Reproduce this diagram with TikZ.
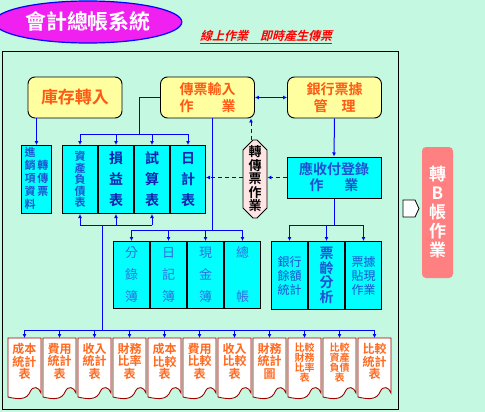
\documentclass[tikz,border=0pt]{standalone}
\usepackage{fontspec}
\setmainfont{Noto Sans CJK TC}[BoldFont={Noto Sans CJK TC Bold}]
\newfontfamily\slantcjk{Noto Sans CJK TC Bold}[FakeSlant=0.25]
\usetikzlibrary{shapes.geometric,shapes.misc,shapes.symbols,positioning,arrows.meta,calc}

\definecolor{mint}{HTML}{C4F8E0}
\definecolor{paleyellow}{HTML}{FFFFA0}
\definecolor{orangetext}{HTML}{FF5A14}
\definecolor{aqua}{RGB}{0,255,255}
\definecolor{wireblue}{RGB}{0,0,255}
\definecolor{boxblue}{HTML}{2050D0}
\definecolor{darkblue}{HTML}{1020B0}
\definecolor{lightblue}{HTML}{3070E0}
\definecolor{salmon}{HTML}{FF8080}
\definecolor{palepink}{HTML}{FFE4E4}
\definecolor{docred}{HTML}{A00000}
\definecolor{docorange}{HTML}{FF6A20}
\definecolor{titlemagenta}{HTML}{F020F0}

\begin{document}
\begin{tikzpicture}[x=1pt, y=-1pt,
    wire/.style={wireblue, line width=1pt},
    arr/.style={wire, -{Latex[length=4pt,width=4pt]}},
    dblarr/.style={wire, {Latex[length=4pt,width=4pt]}-{Latex[length=4pt,width=4pt]}},
    dasharr/.style={arr, dash pattern=on 4pt off 3pt},
    topbox/.style={rectangle, rounded corners=7pt, draw, line width=0.9pt, fill=paleyellow, text=orangetext,
        minimum width=94pt, minimum height=41pt, inner sep=0pt, align=center, font=\fontsize{14}{17}\selectfont\bfseries},
    cyanbox/.style={rectangle, draw, line width=1pt, fill=aqua, text=boxblue, inner sep=0pt, align=center},
    rpt/.style={cyanbox, minimum width=35pt, minimum height=68pt, font=\fontsize{14}{21}\selectfont\bfseries, text=darkblue},
    jrnl/.style={cyanbox, minimum width=36pt, minimum height=67pt, font=\fontsize{13}{22}\selectfont, text=lightblue},
    bnk/.style={cyanbox, minimum width=36pt, minimum height=68pt, font=\fontsize{12}{14}\selectfont},
    docline/.style={draw=docred, fill=white, line width=0.9pt},
    doctext/.style={anchor=north, inner xsep=0pt, inner ysep=5pt, align=center, text=docorange},
]

% background and frame
\useasboundingbox (0,0) rectangle (485,412);
\fill[mint] (0,0) rectangle (485,412);
\draw[line width=1pt] (2,52) rectangle (398,409);

% title
\node[ellipse, draw=wireblue, line width=1.2pt, fill=titlemagenta, minimum width=158pt, minimum height=42pt,
      text=white, font=\fontsize{21}{21}\selectfont\bfseries] (title) at (88,22) {會計總帳系統};
\node[anchor=west, text=red, inner sep=0pt, font=\slantcjk\fontsize{12}{12}\selectfont] (sub) at (200,37)
      {\underline{線上作業　即時產生傳票}};

% top row
\node[topbox, font=\fontsize{17}{17}\selectfont\bfseries] (stock) at (75,97.5) {庫存轉入};
\node[topbox] (input) at (207.5,97.5) {傳票輸入\\作　　業};
\node[topbox] (bank) at (334.5,97.5) {銀行票據\\管　理};

% reports
\node[cyanbox, minimum width=30pt, minimum height=68pt, anchor=north west, font=\fontsize{11}{12}\selectfont\bfseries] (inout) at (21,145)
      {\begin{tabular}{@{}c@{\hspace{2pt}}c@{}}
       \begin{tabular}[c]{@{}c@{}}進\\銷\\項\\資\\料\end{tabular} &
       \begin{tabular}[c]{@{}c@{}}轉\\傳\\票\end{tabular}
       \end{tabular}};
\node[rpt, anchor=north west, font=\fontsize{11}{11.5}\selectfont\bfseries, text=boxblue] (bs) at (62,145) {資\\產\\負\\債\\表};
\node[rpt, right=0pt of bs] (pl) {損\\益\\表};
\node[rpt, right=0pt of pl] (tb) {試\\算\\表};
\node[rpt, right=0pt of tb] (dl) {日\\計\\表};

% transfer voucher
\node[chamfered rectangle, chamfered rectangle xsep=5pt, chamfered rectangle ysep=5pt, draw, line width=0.9pt,
      fill=palepink, minimum width=24pt, minimum height=78pt, inner sep=0pt, align=center,
      font=\fontsize{13}{13.5}\selectfont\bfseries] (oct) at (255,179) {轉\\傳\\票\\作\\業};
\node[cyanbox, minimum width=94pt, minimum height=41pt, font=\fontsize{14}{16}\selectfont\bfseries] (receipt) at (334,177.5)
      {應收付登錄\\作\hspace{21pt}業};

% journals
\node[jrnl, anchor=north west] (fen) at (113,241) {分\\錄\\簿};
\node[jrnl, right=0pt of fen] (riji) {日\\記\\簿};
\node[jrnl, right=0pt of riji] (cash) {現\\金\\簿};
\node[jrnl, right=0pt of cash] (ledger) {總\\[22pt]帳};

% bank statistics
\node[bnk, anchor=north west] (bal) at (271,241) {銀行\\餘額\\統計};
\node[bnk, right=0pt of bal, font=\fontsize{14}{14.5}\selectfont\bfseries] (age) {票\\齡\\分\\析};
\node[bnk, right=0pt of age] (disc) {票據\\貼現\\作業};

% B account transfer
\node[signal, signal to=east, signal pointer angle=130, draw, fill=white, line width=0.8pt,
      minimum width=16pt, minimum height=17pt, inner sep=0pt] (fwd) at (409,208.5) {};
\node[rectangle, rounded corners=4pt, fill=salmon, text=white, minimum width=31pt, minimum height=131pt,
      inner sep=0pt, align=center, font=\fontsize{17}{19}\selectfont\bfseries] (tob) at (437.5,212.5) {轉\\B\\帳\\作\\業};

% output documents
\foreach \i/\sz/\ls/\t in {1/12/12.5/{成本\\統計\\表}, 2/12/12.5/{費用\\統計\\表}, 3/12/12.5/{收入\\統計\\表},
    4/12/12.5/{財務\\比率\\表}, 5/12/12.5/{成本\\比較\\表}, 6/12/12.5/{費用\\比較\\表}, 7/12/12.5/{收入\\比較\\表},
    8/12/12.5/{財務\\統計\\圖}, 9/10/10/{比較\\財務\\比率\\表}, 10/10/10/{比較\\資產\\負債\\表}, 11/12/12.5/{比較\\統計\\表}} {
  \pgfmathsetmacro\x{24.5+35*(\i-1)}
  \draw[docline, shift={(\x,338)}] (-16.5,0) -- (16.5,0) -- (16.5,55)
      .. controls (14.5,49) and (8.5,47) .. (5.5,54)
      .. controls (2.5,61) and (-4.5,62) .. (-16.5,59) -- cycle;
  \node[doctext, font=\fontsize{\sz}{\ls}\selectfont\bfseries] (d\i) at (\x,338) {\t};
}

% branch points
\coordinate (rj) at (139,134);
\coordinate (uj) at (102,225);
\coordinate (bus) at (102,330);
\coordinate (jj) at (212,230);
\coordinate (bj) at (334,225);
\coordinate (tv) at (251,0);

% inventory to sales data
\draw[arr] (inout.north |- stock.south) -- (inout.north);

% voucher input to reports
\draw[wire] (input.west) -| (rj);
\draw[wire] (bs.north |- rj) -- (dl.north |- rj);
\foreach \n in {bs,pl,tb,dl} \draw[arr] (\n.north |- rj) -- (\n.north);

% reports to output documents
\draw[wire] (bs.south |- uj) -- (tb.south |- uj);
\foreach \n in {bs,pl,tb} \draw[arr] (\n.south |- uj) -- (\n.south);
\draw[wire] (uj) -- (bus);
\draw[wire] (d1.north |- bus) -- (d11.north |- bus);
\foreach \i in {1,...,11} \draw[arr] (d\i.north |- bus) -- (d\i.north);

% voucher input to journals
\draw[wire] (input.south -| jj) -- (jj);
\draw[wire] (fen.north |- jj) -- (ledger.north |- jj);
\foreach \n in {fen,riji,cash,ledger} \draw[arr] (\n.north |- jj) -- (\n.north);

% bank side
\draw[dblarr] (input.east) -- (bank.west);
\draw[arr] (bank.south) -- (receipt.north);
\draw[wire] (receipt.south) -- (receipt.south |- bj);
\draw[wire] (bal.north |- bj) -- (disc.north |- bj);
\foreach \n in {bal,age,disc} \draw[arr] (\n.north |- bj) -- (\n.north);

% feedback via transfer voucher
\draw[dasharr] (receipt.west) -- (receipt.west -| oct.east);
\draw[dasharr] (oct.west |- receipt.west) -- (dl.east |- receipt.west);
\draw[dasharr] (oct.north -| tv) -- (input.south -| tv);

\end{tikzpicture}
\end{document}
